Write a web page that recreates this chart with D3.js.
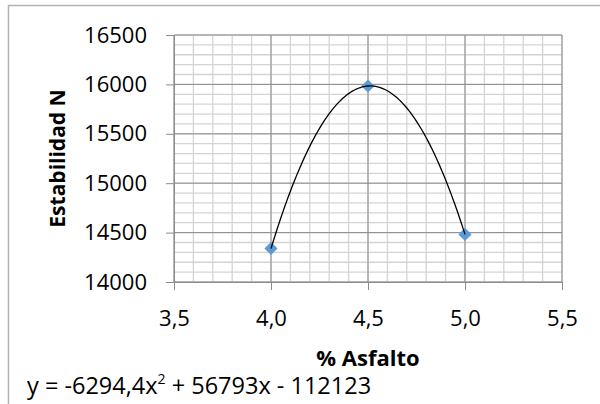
<!DOCTYPE html>
<html>
<head>
<meta charset="utf-8">
<script src="https://cdn.jsdelivr.net/npm/d3@7"></script>
<style>
  body { margin: 0; background: #fff; }
  text { font-family: "Open Sans", sans-serif; }
</style>
</head>
<body>
<script>
// measured points
const asfalto = [4.0, 4.5, 5.0]
const estabilidad = [14339, 15984, 14482]
// trendline y = a x^2 + b x + c (as printed on the chart)
const coefs = [-6294.4, 56793, -112123]
const xTicks = [3.5, 4.0, 4.5, 5.0, 5.5]
const yTicks = [14000, 14500, 15000, 15500, 16000, 16500]

const w = 600
const h = 404

const x = d3.scaleLinear().domain([3.5, 5.5]).range([174, 562])
const y = d3.scaleLinear().domain([14000, 16500]).range([282, 35])

const svg = d3.select("body").append("svg")
  .attr("width", w)
  .attr("height", h)

// chart frame (only top + left visible)
svg.append("path")
  .attr("d", "M8.5,420 V5.5 H620")
  .attr("fill", "none")
  .attr("stroke", "#b3b3b3")
  .attr("stroke-width", 1.5)

// minor grid
const minorX = d3.range(35, 56).map(d => d / 10)
const minorY = d3.range(140, 166).map(d => d * 100)
svg.append("g").selectAll("line")
  .data(minorX)
  .join("line")
  .attr("x1", d => x(d)).attr("x2", d => x(d))
  .attr("y1", y(16500)).attr("y2", y(14000))
  .attr("stroke", "#d4d4d4").attr("stroke-width", 1.3)
svg.append("g").selectAll("line")
  .data(minorY)
  .join("line")
  .attr("y1", d => y(d)).attr("y2", d => y(d))
  .attr("x1", x(3.5)).attr("x2", x(5.5))
  .attr("stroke", "#d4d4d4").attr("stroke-width", 1.3)

// major grid
svg.append("g").selectAll("line")
  .data(xTicks)
  .join("line")
  .attr("x1", d => x(d)).attr("x2", d => x(d))
  .attr("y1", y(16500)).attr("y2", y(14000))
  .attr("stroke", "#8c8c8c")
svg.append("g").selectAll("line")
  .data(yTicks)
  .join("line")
  .attr("y1", d => y(d)).attr("y2", d => y(d))
  .attr("x1", x(3.5)).attr("x2", x(5.5))
  .attr("stroke", "#8c8c8c")

const fmt = d => d3.format(".1f")(d).replace(".", ",")

// axes
svg.append("g")
  .attr("transform", `translate(0,${y(14000)})`)
  .call(d3.axisBottom(x).tickValues(xTicks).tickFormat(fmt).tickSize(8).tickPadding(20).tickSizeOuter(0))
svg.append("g")
  .attr("transform", `translate(${x(3.5)},0)`)
  .call(d3.axisLeft(y).tickValues(yTicks).tickFormat(d3.format("d")).tickSize(8).tickPadding(19).tickSizeOuter(0))

svg.selectAll(".domain").attr("stroke", "#8c8c8c")
svg.selectAll(".tick line").attr("stroke", "#8c8c8c")
svg.selectAll(".tick text")
  .attr("fill", "#000")
  .attr("font-size", 22)
  .attr("font-family", "Open Sans, sans-serif")

// trendline, from first to last x
const curveX = d3.range(0, 101).map(i => asfalto[0] + i * (asfalto[2] - asfalto[0]) / 100)
const trend = d3.line()
  .x(d => x(d))
  .y(d => y(coefs[0] * d * d + coefs[1] * d + coefs[2]))

// markers
const diamond = d3.symbol().type(d3.symbolDiamond2).size(110)
svg.append("g").selectAll("path")
  .data(asfalto)
  .join("path")
  .attr("transform", (d, i) => `translate(${x(d)},${y(estabilidad[i])})`)
  .attr("d", diamond)
  .attr("fill", "#5b9bd5")

svg.append("path")
  .datum(curveX)
  .attr("d", trend)
  .attr("fill", "none")
  .attr("stroke", "#000")
  .attr("stroke-width", 1.3)

// titles
svg.append("text")
  .attr("transform", `translate(65,${(y(16500) + y(14000)) / 2}) rotate(-90)`)
  .attr("text-anchor", "middle")
  .attr("font-size", 21)
  .attr("font-weight", "bold")
  .text("Estabilidad N")

svg.append("text")
  .attr("x", x(4.5))
  .attr("y", 366)
  .attr("text-anchor", "middle")
  .attr("font-size", 22)
  .attr("font-weight", "bold")
  .text("% Asfalto")

// trendline equation
const eq = svg.append("text")
  .attr("x", 27)
  .attr("y", 394)
  .attr("font-size", 23.5)
eq.append("tspan").text("y = -6294,4x")
eq.append("tspan").attr("font-size", 14).attr("dy", -10).text("2")
eq.append("tspan").attr("dy", 10).text(" + 56793x - 112123")
</script>
</body>
</html>
